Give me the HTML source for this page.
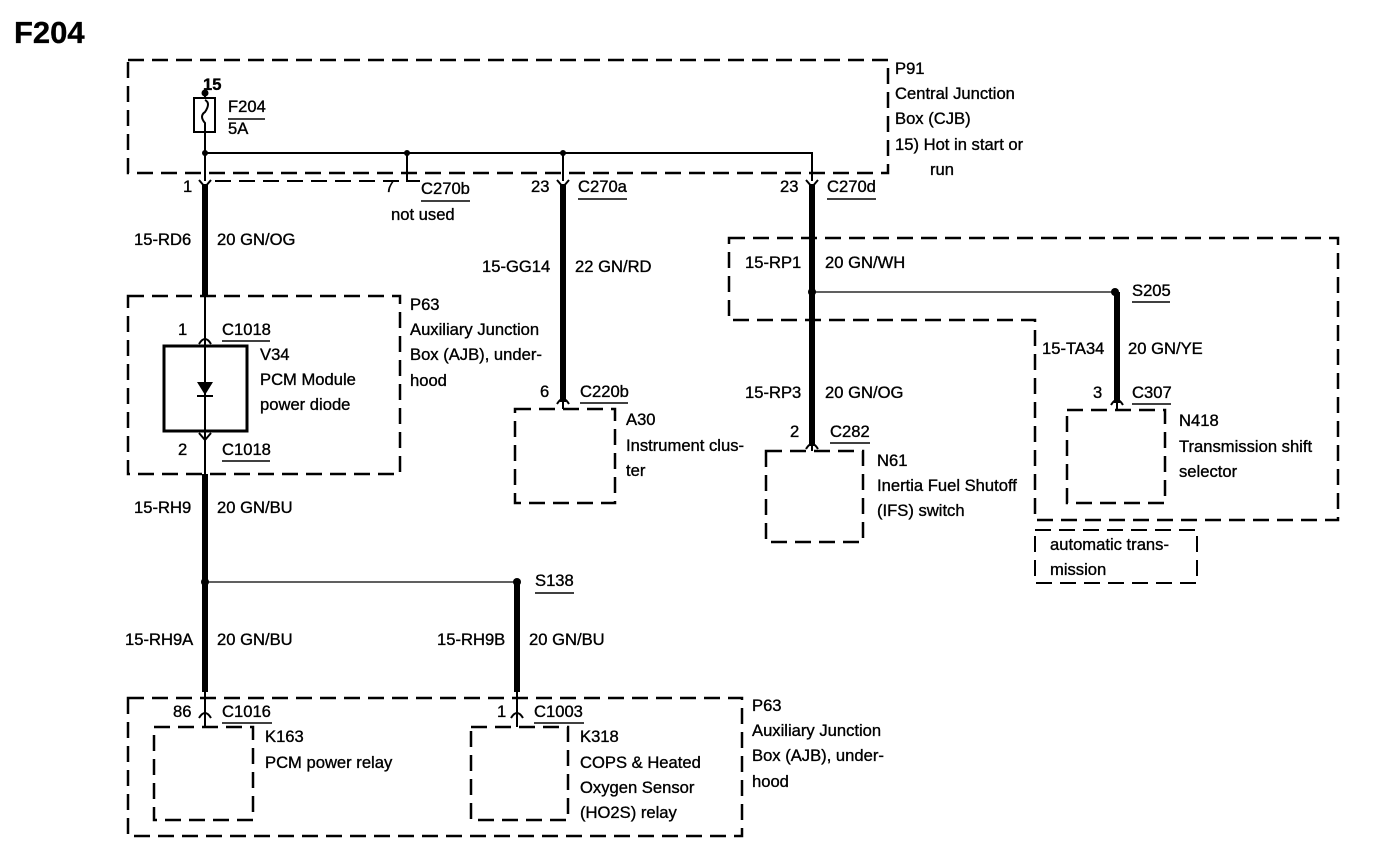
<!DOCTYPE html>
<html><head><meta charset="utf-8"><style>
html,body{margin:0;padding:0;background:#fff;}
svg{display:block}
text{font-family:"Liberation Sans",Arial,sans-serif;font-size:16.6px;fill:#000;stroke:#000;stroke-width:0.35;}
.d{fill:none;stroke:#000;stroke-width:2.5;stroke-dasharray:16,8;}
.t{stroke:#000;stroke-width:2;fill:none}
.k{stroke:#000;stroke-width:6;fill:none}
.u{stroke:#000;stroke-width:1.5}
</style></head><body>
<svg width="1376" height="860" viewBox="0 0 1376 860" xmlns="http://www.w3.org/2000/svg">
<text x="14" y="43" style="font-size:31px;font-weight:bold">F204</text>

<!-- CJB box -->
<rect class="d" x="128" y="60" width="760" height="113"/>
<text x="895" y="74">P91</text>
<text x="895" y="99">Central Junction</text>
<text x="895" y="124">Box (CJB)</text>
<text x="895" y="150">15)  Hot in start or</text>
<text x="930" y="175">run</text>

<!-- fuse -->
<circle cx="205" cy="93" r="3.5"/>
<text x="203" y="90" style="font-weight:bold">15</text>
<rect x="194" y="98" width="21" height="34" class="t"/>
<path class="t" d="M205 93 V98 M205 100 q6 3 0 12 q-6 4 0 11 V153"/>
<text x="228" y="112">F204</text><line class="u" x1="228" y1="119" x2="265" y2="119"/>
<text x="228" y="134">5A</text>

<!-- bus -->
<path class="t" d="M205 153 H812 V181"/>
<circle cx="205" cy="153" r="3"/><circle cx="407" cy="153" r="3"/><circle cx="563" cy="153" r="3"/>
<path class="t" d="M407 153 V181 H420"/>
<path class="t" d="M205 153 V181" />
<path class="d" style="stroke-width:2" d="M215 181 H400"/>
<line class="t" x1="563" y1="153" x2="563" y2="181"/>

<!-- connector ticks -->
<path class="t" d="M199 180 L205 187 L211 180"/>
<path class="t" d="M557 180 L563 187 L569 180"/>
<path class="t" d="M806 180 L812 187 L818 180"/>
<text x="183" y="192">1</text>
<text x="385" y="192">7</text>
<text x="421" y="194">C270b</text><line class="u" x1="421" y1="201" x2="470" y2="201"/>
<text x="391" y="220">not used</text>
<text x="531" y="192">23</text>
<text x="578" y="192">C270a</text><line class="u" x1="578" y1="199" x2="627" y2="199"/>
<text x="780" y="192">23</text>
<text x="827" y="192">C270d</text><line class="u" x1="827" y1="199" x2="876" y2="199"/>

<!-- wire 205 -->
<line class="k" x1="205" y1="184" x2="205" y2="296"/>
<text x="134" y="245">15-RD6</text>
<text x="217" y="245">20 GN/OG</text>

<!-- P63 upper -->
<rect class="d" x="128" y="296" width="272" height="178"/>
<text x="410" y="310">P63</text>
<text x="410" y="335">Auxiliary Junction</text>
<text x="410" y="360">Box (AJB), under-</text>
<text x="410" y="386">hood</text>
<line class="t" x1="205" y1="296" x2="205" y2="474"/>
<path class="t" d="M199 344 Q205 334 211 344"/>
<rect x="164" y="346" width="83" height="85" stroke="#000" stroke-width="3" fill="none"/>
<path d="M197 382 H213 L205 395 Z"/><line class="t" x1="197" y1="396" x2="213" y2="396"/>
<path class="t" d="M199 433 L205 440 L211 433"/>
<text x="178" y="335">1</text>
<text x="222" y="335">C1018</text><line class="u" x1="222" y1="341" x2="270" y2="341"/>
<text x="260" y="360">V34</text>
<text x="260" y="385">PCM Module</text>
<text x="260" y="410">power diode</text>
<text x="178" y="455">2</text>
<text x="222" y="455">C1018</text><line class="u" x1="222" y1="461" x2="270" y2="461"/>

<!-- 205 down -->
<line class="k" x1="205" y1="474" x2="205" y2="692"/>
<text x="134" y="513">15-RH9</text>
<text x="217" y="513">20 GN/BU</text>
<circle cx="205" cy="582" r="4"/>
<line class="t" style="stroke-width:1.3" x1="205" y1="582" x2="517" y2="582"/>
<circle cx="517" cy="582" r="4"/>
<text x="535" y="586">S138</text><line class="u" x1="535" y1="593" x2="574" y2="593"/>
<line class="k" x1="517" y1="582" x2="517" y2="692"/>
<text x="125" y="645">15-RH9A</text>
<text x="217" y="645">20 GN/BU</text>
<text x="437" y="645">15-RH9B</text>
<text x="529" y="645">20 GN/BU</text>

<!-- bottom P63 -->
<rect class="d" x="128" y="698" width="614" height="138"/>
<path class="t" d="M199 718 Q205 708 211 718"/><line class="t" x1="205" y1="692" x2="205" y2="727"/>
<path class="t" d="M511 718 Q517 708 523 718"/><line class="t" x1="517" y1="692" x2="517" y2="727"/>
<text x="173" y="717">86</text>
<text x="222" y="717">C1016</text><line class="u" x1="222" y1="723" x2="272" y2="723"/>
<text x="497" y="717">1</text>
<text x="534" y="717">C1003</text><line class="u" x1="534" y1="723" x2="584" y2="723"/>
<rect class="d" x="154" y="727" width="99" height="93"/>
<rect class="d" x="471" y="727" width="97" height="93"/>
<text x="265" y="742">K163</text>
<text x="265" y="768">PCM power relay</text>
<text x="580" y="742">K318</text>
<text x="580" y="768">COPS &amp; Heated</text>
<text x="580" y="793">Oxygen Sensor</text>
<text x="580" y="818">(HO2S) relay</text>
<text x="752" y="711">P63</text>
<text x="752" y="736">Auxiliary Junction</text>
<text x="752" y="761">Box (AJB), under-</text>
<text x="752" y="787">hood</text>

<!-- 563 -->
<line class="k" x1="563" y1="184" x2="563" y2="402"/>
<text x="482" y="272">15-GG14</text>
<text x="575" y="272">22 GN/RD</text>
<path class="t" d="M557 404 Q563 394 569 404"/><line class="t" x1="563" y1="400" x2="563" y2="409"/>
<text x="540" y="397">6</text>
<text x="580" y="397">C220b</text><line class="u" x1="580" y1="403" x2="628" y2="403"/>
<rect class="d" x="515" y="409" width="100" height="94"/>
<text x="626" y="425">A30</text>
<text x="626" y="451">Instrument clus-</text>
<text x="626" y="476">ter</text>

<!-- 812 -->
<line class="k" x1="812" y1="184" x2="812" y2="446"/>
<path class="d" d="M729 238 H1338 V520 H1035 V320 H729 Z"/>
<text x="745" y="268">15-RP1</text>
<text x="825" y="268">20 GN/WH</text>
<circle cx="812" cy="292" r="4"/>
<line class="t" style="stroke-width:1.3" x1="812" y1="292" x2="1115" y2="292"/>
<circle cx="1115" cy="292" r="4"/>
<text x="1132" y="296">S205</text><line class="u" x1="1132" y1="302" x2="1170" y2="302"/>
<text x="745" y="398">15-RP3</text>
<text x="825" y="398">20 GN/OG</text>
<path class="t" d="M806 449 Q812 439 818 449"/><line class="t" x1="812" y1="444" x2="812" y2="451"/>
<text x="790" y="437">2</text>
<text x="830" y="437">C282</text><line class="u" x1="830" y1="443" x2="870" y2="443"/>
<rect class="d" x="766" y="451" width="97" height="91"/>
<text x="877" y="466">N61</text>
<text x="877" y="491">Inertia Fuel Shutoff</text>
<text x="877" y="516">(IFS) switch</text>

<!-- 1117 -->
<line class="k" x1="1117" y1="292" x2="1117" y2="403"/>
<path class="t" d="M1111 405 Q1117 395 1123 405"/><line class="t" x1="1117" y1="400" x2="1117" y2="410"/>
<text x="1042" y="354">15-TA34</text>
<text x="1128" y="354">20 GN/YE</text>
<text x="1093" y="398">3</text>
<text x="1132" y="398">C307</text><line class="u" x1="1132" y1="404" x2="1171" y2="404"/>
<rect class="d" x="1067" y="410" width="98" height="93"/>
<text x="1179" y="426">N418</text>
<text x="1179" y="452">Transmission shift</text>
<text x="1179" y="477">selector</text>
<rect class="d" style="stroke-width:2" x="1035" y="530" width="162" height="53"/>
<text x="1050" y="550">automatic trans-</text>
<text x="1050" y="575">mission</text>
</svg>
</body></html>
